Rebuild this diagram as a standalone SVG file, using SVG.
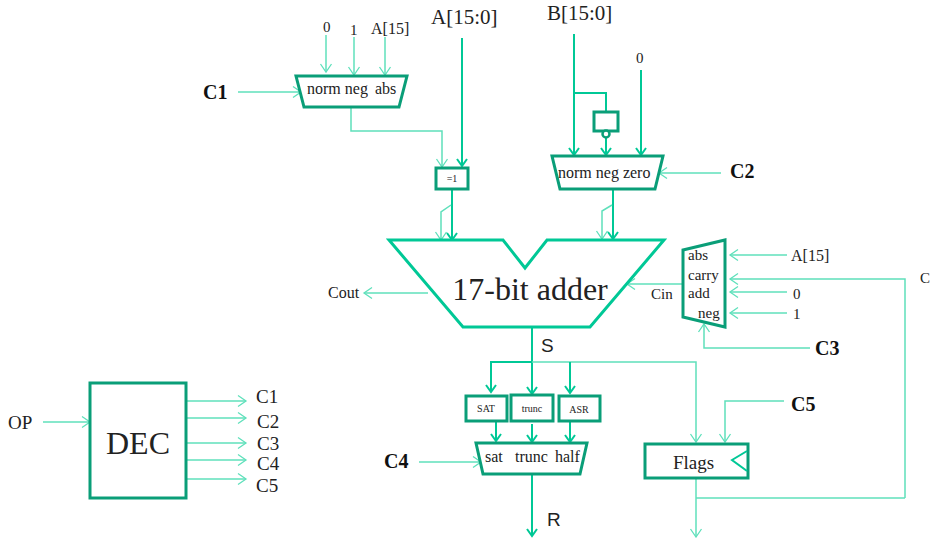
<svg xmlns="http://www.w3.org/2000/svg" width="931" height="538" viewBox="0 0 931 538">
<defs>
<marker id="ah" markerUnits="userSpaceOnUse" markerWidth="14" markerHeight="14" refX="11" refY="7" orient="auto"><path d="M3 1.5L11 7L3 12.5" fill="none" stroke="context-stroke" stroke-width="1.3"/></marker>
<marker id="ab" markerUnits="userSpaceOnUse" markerWidth="14" markerHeight="14" refX="11" refY="7" orient="auto"><path d="M4 2L11 7L4 12" fill="none" stroke="context-stroke" stroke-width="2"/></marker>
</defs>
<style>
text{font-family:"Liberation Serif",serif;fill:#222}
.b{font-weight:bold;font-size:20px;fill:#111}
.sans{font-family:"Liberation Sans",sans-serif;font-size:19px}
.box{fill:#fff;stroke:#0a9e78;stroke-width:3}
.add{fill:#fff;stroke:#00c896;stroke-width:3}
.thin{fill:none;stroke:#5fe0bb;stroke-width:1.5}
.thick{fill:none;stroke:#00c896;stroke-width:2}
.ta{marker-end:url(#ah)}
.tb{marker-end:url(#ab)}
.s14{font-size:15px}
.s15{font-size:16px}
.s16{font-size:16px}
.s10{font-size:10px}
</style>
<rect width="931" height="538" fill="#fff"/>
<g id="connectors">
<path class="thin ta" d="M326 35V72"/>
<path class="thin ta" d="M354 37V75"/>
<path class="thin ta" d="M385 37V75"/>
<path class="thin ta" d="M238 92H301"/>
<path class="thin ta" d="M351 108V131H442V167"/>
<path class="thick tb" d="M462 38V166"/>
<path class="thick tb" d="M452 189V240"/>
<path class="thin ta" d="M451 205L441 212V240"/>
<path class="thick tb" d="M574 34V155"/>
<path class="thick" d="M574 93H606V113"/>
<path class="thick tb" d="M606 137V155"/>
<path class="thick tb" d="M641 70V155"/>
<path class="thin ta" d="M721 173H659"/>
<path class="thick tb" d="M613 189V239"/>
<path class="thin ta" d="M612 205L602 211V239"/>
<path class="thin ta" d="M428 293H364"/>
<path class="thin ta" d="M683 284H627"/>
<path class="thin ta" d="M787 255H730"/>
<path class="thin ta" d="M905 498V279H730"/>
<path class="thin ta" d="M787 292H730"/>
<path class="thin ta" d="M787 313H730"/>
<path class="thin ta" d="M810 348H704V324"/>
<path class="thick tb" d="M532 327V394"/>
<path class="thin ta" d="M532 362H696V442"/>
<path class="thick tb" d="M532 362H491V392"/>
<path class="thick tb" d="M570 362V393"/>
<path class="thick tb" d="M496 421V441"/>
<path class="thick tb" d="M532 424V442"/>
<path class="thick tb" d="M570 421V442"/>
<path class="thin ta" d="M419 462H481"/>
<path class="thick tb" d="M532 474V536"/>
<path class="thin ta" d="M784 401H725V442"/>
<path class="thin ta" d="M696 475V537"/>
<path class="thin" d="M696 498H905"/>
<path class="thin ta" d="M43 422H90"/>
<path class="thin ta" d="M186 401H246"/>
<path class="thin ta" d="M186 418H246"/>
<path class="thin ta" d="M186 443H246"/>
<path class="thin ta" d="M186 460H246"/>
<path class="thin ta" d="M186 479H246"/>
</g>
<g id="mux-c1">
<path class="box" d="M296 76H407L399 107H304Z"/>
<text class="s15" x="307" y="94">norm neg</text><text class="s15" x="375" y="94">abs</text>
</g>
<g id="xor"><rect class="box" x="436" y="168" width="32" height="21"/><text class="s10" x="452" y="182" text-anchor="middle">=1</text></g>
<g id="not"><rect class="box" x="594" y="112" width="24" height="19"/><circle cx="606" cy="134" r="3.5" fill="#fff" stroke="#0a9e78" stroke-width="2.5"/></g>
<g id="mux-c2">
<path class="box" d="M552 156H663L655 189H560Z"/>
<text class="s15" x="558" y="178">norm neg zero</text>
</g>
<g id="adder">
<path class="add" d="M389 240H503L525 268L547 240H664L590 327H463Z"/>
<text x="530" y="300" text-anchor="middle" font-size="32">17-bit adder</text>
</g>
<g id="mux-c3">
<path class="box" d="M683 250L725 240V327L683 317Z"/>
<text class="s14" x="688" y="260">abs</text>
<text class="s14" x="688" y="280">carry</text>
<text class="s14" x="688" y="298">add</text>
<text class="s14" x="698" y="318">neg</text>
</g>
<g id="sat"><rect class="box" x="466" y="396" width="41" height="25"/><text class="s10" x="486" y="412" text-anchor="middle">SAT</text></g>
<g id="trunc"><rect class="box" x="511" y="395" width="42" height="26"/><text class="s10" x="532" y="412" text-anchor="middle">trunc</text></g>
<g id="asr"><rect class="box" x="559" y="396" width="41" height="25"/><text class="s10" x="579" y="413" text-anchor="middle">ASR</text></g>
<g id="mux-c4">
<path class="box" d="M476 443H587L580 474H483Z"/>
<text class="s15" x="485" y="462">sat</text><text class="s15" x="515" y="462">trunc</text><text class="s15" x="555" y="462">half</text>
</g>
<g id="flags">
<rect class="box" x="645" y="444" width="103" height="34"/>
<path d="M747 451L732 460L747 471" fill="none" stroke="#00c896" stroke-width="2"/>
<text x="673" y="469" font-size="19">Flags</text>
</g>
<g id="dec">
<rect class="box" x="90" y="383" width="96" height="115"/>
<text x="138" y="454" text-anchor="middle" font-size="32">DEC</text>
</g>
<g id="labels">
<text class="s14" x="323" y="32">0</text>
<text class="s14" x="350" y="35">1</text>
<text class="s16" x="371" y="34">A[15]</text>
<text x="431" y="24" font-size="21">A[15:0]</text>
<text x="547" y="20" font-size="21">B[15:0]</text>
<text class="s14" x="636" y="63">0</text>
<text class="b" x="203" y="99">C1</text>
<text class="b" x="730" y="178">C2</text>
<text class="b" x="815" y="355">C3</text>
<text class="b" x="384" y="468">C4</text>
<text class="b" x="791" y="411">C5</text>
<text class="s16" x="328" y="298">Cout</text>
<text class="s14" x="651" y="299">Cin</text>
<text class="s16" x="791" y="261">A[15]</text>
<text class="s14" x="793" y="299">0</text>
<text class="s14" x="793" y="319">1</text>
<text class="s14" x="920" y="283">C</text>
<text class="sans" x="541" y="352" font-size="20">S</text>
<text class="sans" x="547" y="526">R</text>
<text x="8" y="429" font-size="19">OP</text>
<text x="256" y="403" font-size="19">C1</text>
<text x="257" y="428" font-size="19">C2</text>
<text x="257" y="450" font-size="19">C3</text>
<text x="257" y="470" font-size="19">C4</text>
<text x="256" y="492" font-size="19">C5</text>
</g>
</svg>
